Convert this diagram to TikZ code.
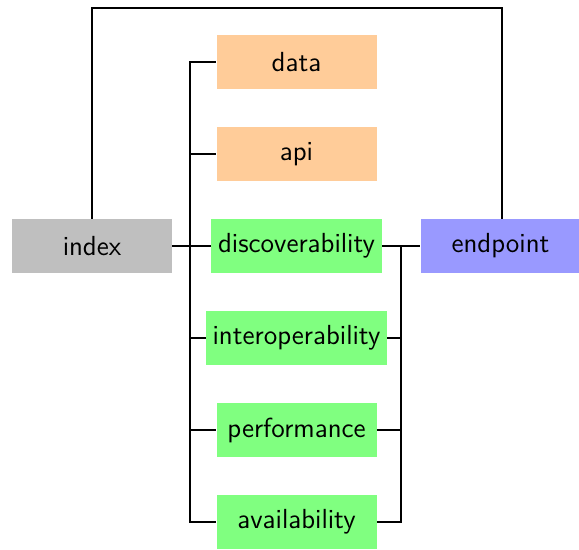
\documentclass[tikz,border=0pt]{standalone}
\begin{document}
\begin{tikzpicture}[x=0.5pt,y=-0.5pt,
  every node/.style={font=\fontsize{13.8}{16.5}\selectfont\sffamily},
  box/.style={minimum width=80pt,minimum height=27pt,inner sep=0.3333em},
  grey/.style={box,fill=gray!50},
  orng/.style={box,fill=orange!40},
  grn/.style={box,fill=green!50},
  blu/.style={box,fill=blue!40},
  wire/.style={line width=1pt}]
\useasboundingbox (0,0) rectangle (579,550);
\node[grey] (index) at (92,246) {index};
\node[orng] (data) at (296.5,62.5) {data};
\node[orng] (api) at (296.5,154.5) {api};
\node[grn] (disc) at (296.5,246) {discoverability};
\node[grn] (inter) at (296.5,338) {interoperability};
\node[grn] (perf) at (296.5,430) {performance};
\node[grn] (avail) at (296.5,522) {availability};
\node[blu] (endp) at (500.5,246) {endpoint};
\foreach \b in {data,api,disc,inter,perf,avail}
  \draw[wire] (index.east) -- ++(18,0) |- (\b.west);
\foreach \b in {disc,inter,perf,avail}
  \draw[wire] (\b.east) -| ([xshift=-9.5pt]endp.west) -- (endp.west);
\coordinate (tl) at (92,8);
\coordinate (tr) at (502,8);
\draw[wire] (index.north) -- (tl) -- (tr) -- (endp.north -| tr);
\end{tikzpicture}
\end{document}
